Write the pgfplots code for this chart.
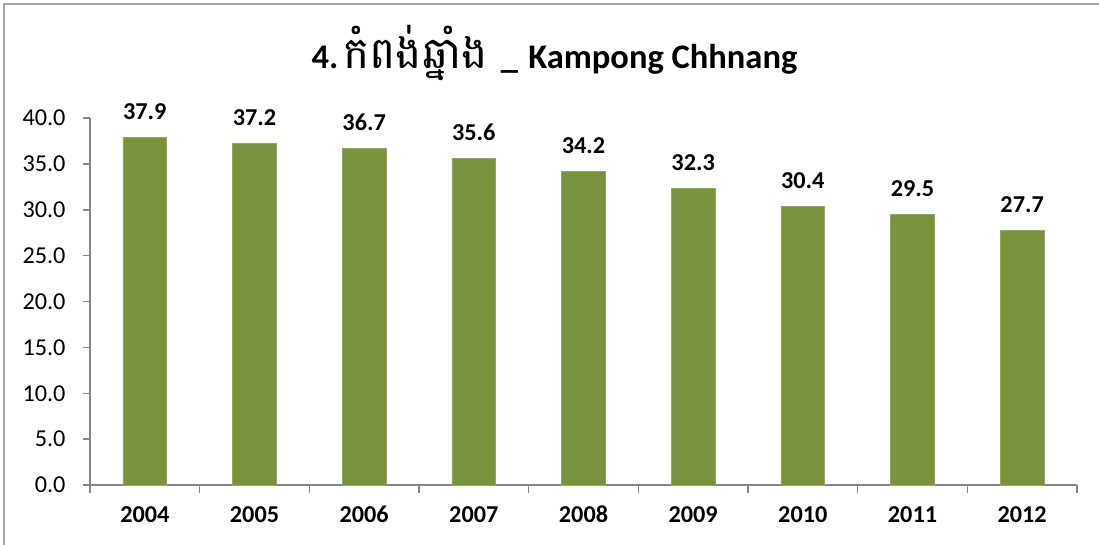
\documentclass[border=0pt]{standalone}
\usepackage{fontspec}
\setmainfont{Carlito}
\newfontfamily\khmerfont[Script=Khmer, Scale=1.28]{Battambang}
\usepackage{pgfplots}
\pgfplotsset{compat=1.18}
\definecolor{bargreen}{HTML}{77933C}
\definecolor{axisgray}{HTML}{868686}
\definecolor{framegray}{HTML}{A6A6A6}
\begin{document}
\begin{tikzpicture}
  % page = 1099 x 544 px, 1 px = 0.4pt
  \useasboundingbox (0,0) rectangle (439.6pt,217.6pt);
  \begin{scope}
    \clip (0,0) rectangle (439.6pt,217.6pt);
    \draw[framegray, line width=0.8pt] (1.6pt,216pt) rectangle (450pt,-10pt);
  \end{scope}
  \node[anchor=base, font=\fontsize{13.8}{16}\selectfont\bfseries] at (221.8pt,190.4pt)
    {4.\hspace{2pt}{\khmerfont\mdseries កំពង់ឆ្នាំង}\hspace{2pt} \_ \hspace{1pt}Kampong Chhnang};
  \begin{axis}[
    at={(36pt,23.6pt)}, anchor=south west,
    scale only axis,
    width=394.8pt, height=146.8pt,
    xmin=-0.5, xmax=8.5,
    ymin=0, ymax=40,
    axis x line=bottom, axis y line=left,
    axis line style={draw=axisgray, line width=0.6pt, -},
    tick align=outside,
    major tick length=2.8pt,
    minor tick length=3.2pt,
    xtick={0,...,8},
    xticklabels={2004,2005,2006,2007,2008,2009,2010,2011,2012},
    minor xtick={-0.5,0.5,...,8.5},
    major x tick style={draw=none},
    minor x tick style={draw=axisgray, line width=0.6pt},
    ytick={0,5,...,40},
    major y tick style={draw=axisgray, line width=0.6pt},
    ticklabel style={font=\fontsize{9.7}{11}\selectfont},
    xticklabel style={font=\fontsize{9.7}{11}\selectfont\bfseries, anchor=base, inner sep=0pt, yshift=-12pt},
    yticklabel style={anchor=east, inner sep=0pt, xshift=-6.8pt,
      /pgf/number format/fixed, /pgf/number format/fixed zerofill,
      /pgf/number format/precision=1},
    /pgf/number format/assume math mode=true,
    ybar, bar width=0.40,
    nodes near coords,
    nodes near coords style={font=\fontsize{9.7}{11}\selectfont\bfseries,
      anchor=base, inner sep=0pt, yshift=7.2pt,
      /pgf/number format/fixed, /pgf/number format/fixed zerofill,
      /pgf/number format/precision=1,
      /pgf/number format/assume math mode=true},
  ]
  \addplot[fill=bargreen, draw=bargreen!80!white, line width=0.3pt] coordinates {
    (0,37.9) (1,37.2) (2,36.7) (3,35.6) (4,34.2)
    (5,32.3) (6,30.4) (7,29.5) (8,27.7)
  };
  \end{axis}
\end{tikzpicture}
\end{document}
